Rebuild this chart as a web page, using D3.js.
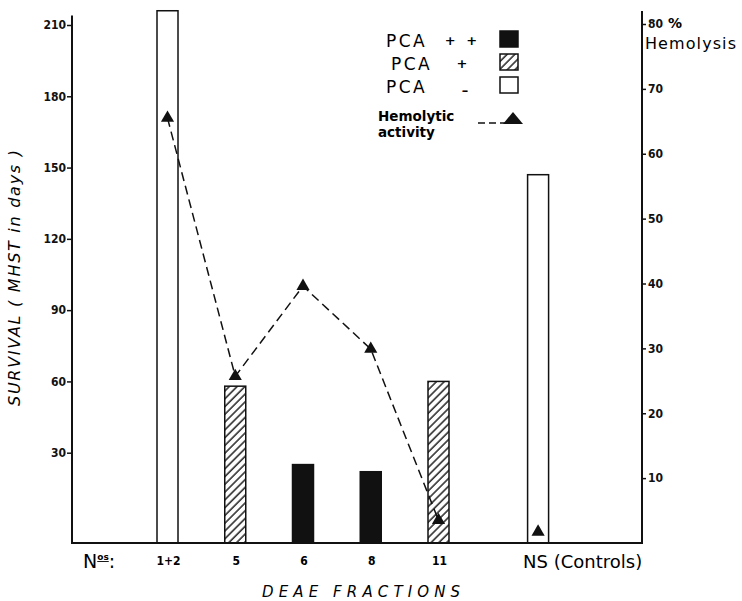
<!DOCTYPE html>
<html>
<head>
<meta charset="utf-8">
<script src="https://cdn.jsdelivr.net/npm/d3@7"></script>
<style>
  body { margin: 0; background: #fff; }
  svg { display: block; }
  .tick text { font-family: "DejaVu Sans Condensed", "DejaVu Sans", sans-serif; font-weight: bold; font-size: 12px; fill: #111; }
</style>
</head>
<body>
<div id="chart"></div>
<script>
/* jshint browser: true */

// fractions off the DEAE column
var fractions = ['1+2', '5', '6', '8', '11', 'NS'];
// survival, MHST in days (left axis)
var survival = [216, 58, 25, 22, 60, 147];
// PCA reaction of each fraction: '++', '+', '-'
var pca = ['-', '+', '++', '++', '+', '-'];
// hemolytic activity, % hemolysis (right axis)
var hemolysis = [65.5, 25.7, 39.6, 29.9, 3.5, 1.7];

var leftTicks = [30, 60, 90, 120, 150, 180, 210];
var rightTicks = [10, 20, 30, 40, 50, 60, 70, 80];

var legendLabels = ['PCA', 'PCA', 'PCA'];
var legendSigns = ['+ +', '+', '\u2013'];
var legendKinds = ['++', '+', '-'];

;(function(d3){

    'use strict';

    var W = 742, H = 601;
    var left = 72, right = 642, base = 543;

    var svg = d3.select('#chart').append('svg')
        .attr('width', W).attr('height', H);

    var defs = svg.append('defs');
    defs.append('pattern')
        .attr('id', 'hatch')
        .attr('patternUnits', 'userSpaceOnUse')
        .attr('width', 5.5).attr('height', 5.5)
        .attr('patternTransform', 'rotate(45)')
      .append('line')
        .attr('x1', 1).attr('y1', 0).attr('x2', 1).attr('y2', 5.5)
        .attr('stroke', '#111').attr('stroke-width', 1.4);

    function fillFor(k){
        if (k === '++') { return '#111'; }
        if (k === '+') { return 'url(#hatch)'; }
        return '#fff';
    }

    // the controls sit a bit further out than the regular fractions
    var xIdx = d3.scaleLinear().domain([0, 4]).range([167.5, 438.5]);
    function xPos(i){ return xIdx(i < 5 ? i : i + 0.47); }

    var yLeft = d3.scaleLinear().domain([-8, 210]).range([base, 25]);
    var yRight = d3.scaleLinear().domain([0, 80]).range([base, 24]);

    var barW = 21;

    // bars
    svg.append('g').selectAll('rect')
        .data(survival)
        .enter().append('rect')
        .attr('x', function(d, i){ return xPos(i) - barW / 2; })
        .attr('y', function(d){ return yLeft(d); })
        .attr('width', barW)
        .attr('height', function(d){ return base - yLeft(d); })
        .attr('fill', function(d, i){ return fillFor(pca[i]); })
        .attr('stroke', '#111')
        .attr('stroke-width', 1.5);

    // axes
    var gL = svg.append('g').attr('transform', 'translate(' + left + ',0)')
        .call(d3.axisLeft(yLeft).tickValues(leftTicks).tickSize(5).tickPadding(1));
    gL.select('.domain').remove();
    gL.selectAll('.tick line').attr('stroke', '#111').attr('stroke-width', 1.5);

    var gR = svg.append('g').attr('transform', 'translate(' + right + ',0)')
        .call(d3.axisRight(yRight).tickValues(rightTicks).tickSize(4).tickPadding(2));
    gR.select('.domain').remove();
    gR.selectAll('.tick line').attr('stroke', '#111').attr('stroke-width', 1.5);

    svg.append('line')
        .attr('x1', left).attr('x2', left)
        .attr('y1', base).attr('y2', yLeft(214))
        .attr('stroke', '#111').attr('stroke-width', 2);
    svg.append('line')
        .attr('x1', right).attr('x2', right)
        .attr('y1', base).attr('y2', yRight(82))
        .attr('stroke', '#111').attr('stroke-width', 2);
    svg.append('line')
        .attr('x1', left - 1).attr('x2', right + 1)
        .attr('y1', base).attr('y2', base)
        .attr('stroke', '#111').attr('stroke-width', 2);

    // hemolysis line (fractions only, controls not joined)
    var line = d3.line()
        .x(function(d, i){ return xPos(i); })
        .y(function(d){ return yRight(d); });
    svg.append('path')
        .datum(hemolysis.slice(0, 5))
        .attr('d', line)
        .attr('fill', 'none')
        .attr('stroke', '#111')
        .attr('stroke-width', 1.5)
        .attr('stroke-dasharray', '9,5');

    var tri = d3.symbol().type(d3.symbolTriangle).size(75);
    svg.append('g').selectAll('path')
        .data(hemolysis)
        .enter().append('path')
        .attr('d', tri)
        .attr('transform', function(d, i){ return 'translate(' + xPos(i) + ',' + yRight(d) + ')'; })
        .attr('fill', '#111');

    // category labels
    svg.append('g').selectAll('text')
        .data(fractions.slice(0, 5))
        .enter().append('text')
        .attr('x', function(d, i){ return xPos(i) + 1; })
        .attr('y', 565)
        .attr('text-anchor', 'middle')
        .style('font-family', '"DejaVu Sans Condensed", "DejaVu Sans", sans-serif')
        .style('font-weight', 'bold')
        .style('font-size', '12px')
        .text(function(d){ return d; });

    svg.append('text')
        .attr('x', xPos(5) - 15)
        .attr('y', 568)
        .style('font-family', '"DejaVu Sans", sans-serif')
        .style('font-size', '18px')
        .text('NS (Controls)');

    var nos = svg.append('text')
        .attr('x', 83).attr('y', 568)
        .style('font-family', '"DejaVu Sans", sans-serif')
        .style('font-size', '19px');
    nos.append('tspan').text('N');
    nos.append('tspan').attr('dy', -8).style('font-size', '9px')
        .style('font-weight', 'bold').style('text-decoration', 'underline').text('os');
    nos.append('tspan').attr('dy', 8).text(':');

    // axis titles
    svg.append('text')
        .attr('transform', 'translate(20,' + 278 + ') rotate(-90)')
        .attr('text-anchor', 'middle')
        .attr('textLength', 256)
        .attr('lengthAdjust', 'spacing')
        .style('font-family', '"DejaVu Sans", sans-serif')
        .style('font-style', 'italic')
        .style('font-size', '16px')
        .text('SURVIVAL ( MHST in days )');

    svg.append('text')
        .attr('x', 262).attr('y', 597)
        .attr('textLength', 198)
        .attr('lengthAdjust', 'spacing')
        .style('font-family', '"DejaVu Sans", sans-serif')
        .style('font-style', 'italic')
        .style('font-size', '15px')
        .text('DEAE  FRACTIONS');

    svg.append('text')
        .attr('x', 668).attr('y', 28)
        .style('font-family', '"DejaVu Sans", sans-serif')
        .style('font-weight', 'bold')
        .style('font-size', '14px')
        .text('%');
    svg.append('text')
        .attr('x', 645).attr('y', 49)
        .attr('textLength', 91)
        .style('font-family', '"DejaVu Sans", sans-serif')
        .style('font-size', '16px')
        .text('Hemolysis');

    // legend
    var lg = svg.append('g');
    var rowY = d3.scaleLinear().domain([0, 2]).range([47, 93]);
    var rows = lg.selectAll('g').data(legendLabels).enter().append('g')
        .attr('transform', function(d, i){ return 'translate(0,' + rowY(i) + ')'; });
    rows.append('text')
        .attr('x', function(d, i){ return i === 1 ? 391 : 386; })
        .attr('y', 0)
        .style('font-family', '"DejaVu Sans", sans-serif')
        .style('font-size', '17px')
        .style('letter-spacing', '2.5px')
        .text(function(d){ return d; });
    rows.append('text')
        .attr('x', function(d, i){ return [461, 462, 465][i]; })
        .attr('y', function(d, i){ return i === 2 ? 2 : -2; })
        .attr('text-anchor', 'middle')
        .style('font-family', '"DejaVu Sans", sans-serif')
        .style('font-weight', 'bold')
        .style('font-size', '13px')
        .style('word-spacing', '6px')
        .text(function(d, i){ return legendSigns[i]; });
    rows.append('rect')
        .attr('x', 500).attr('y', -16)
        .attr('width', 18).attr('height', 16)
        .attr('fill', function(d, i){ return fillFor(legendKinds[i]); })
        .attr('stroke', '#111')
        .attr('stroke-width', 1.5);

    lg.append('text')
        .attr('x', 378).attr('y', 121)
        .style('font-family', '"DejaVu Sans", sans-serif')
        .style('font-weight', 'bold')
        .style('font-size', '13.5px')
        .text('Hemolytic');
    lg.append('text')
        .attr('x', 378).attr('y', 137)
        .style('font-family', '"DejaVu Sans", sans-serif')
        .style('font-weight', 'bold')
        .style('font-size', '13.5px')
        .text('activity');
    lg.append('line')
        .attr('x1', 478).attr('x2', 505)
        .attr('y1', 123).attr('y2', 123)
        .attr('stroke', '#111').attr('stroke-width', 1.5)
        .attr('stroke-dasharray', '7,4');
    lg.append('path')
        .attr('d', 'M503,124 L513,112 L523,124 Z')
        .attr('fill', '#111');

}(window.d3));
</script>
</body>
</html>
